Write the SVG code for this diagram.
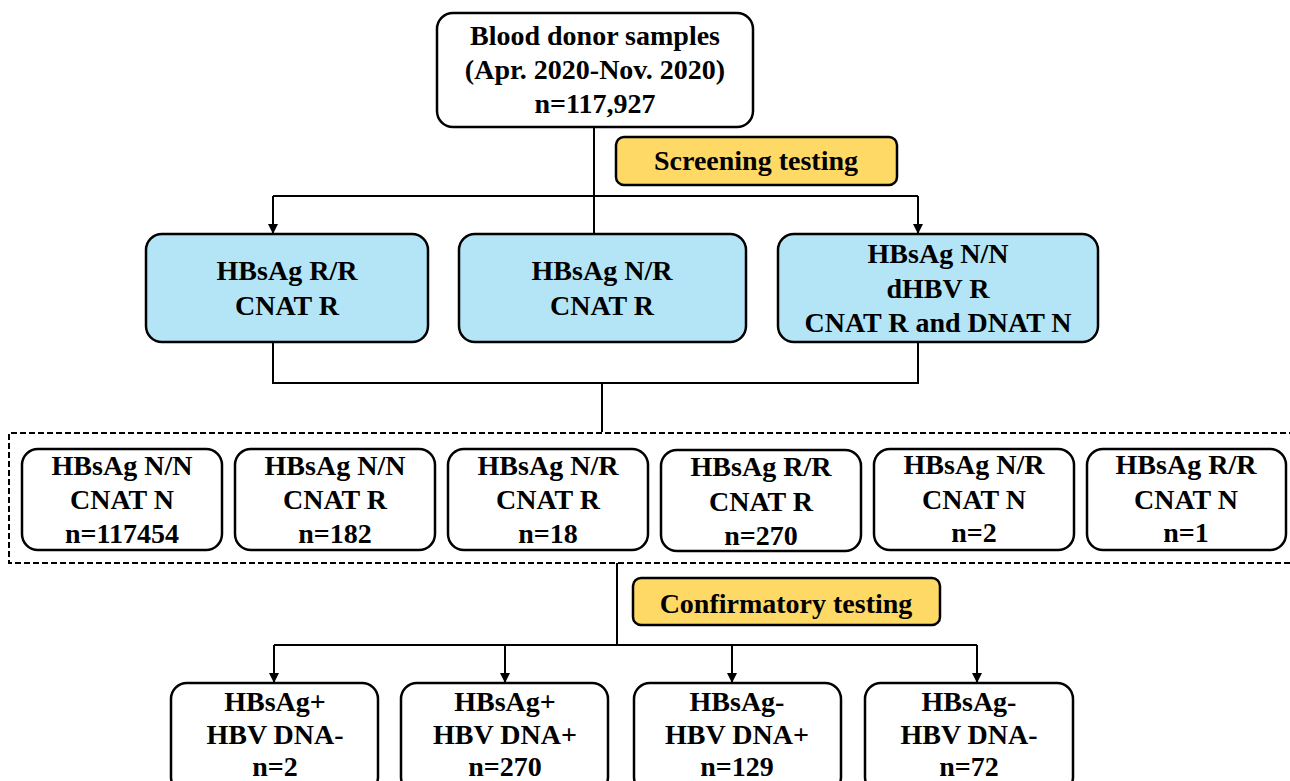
<svg xmlns="http://www.w3.org/2000/svg" width="1290" height="781" viewBox="0 0 1290 781">
  <defs>
    <marker id="arrow" viewBox="0 0 10 10" refX="10" refY="5" markerWidth="10" markerHeight="10" markerUnits="userSpaceOnUse" orient="auto">
      <path d="M0,0 L10,5 L0,10 Z" fill="#000"/>
    </marker>
  </defs>
  <style>
    .box { fill: #fff; stroke: #000; stroke-width: 2.5; }
    .blue { fill: #B3E5F6; stroke: #000; stroke-width: 2.5; }
    .label { fill: #FFD966; stroke: #000; stroke-width: 2.5; }
    .line { fill: none; stroke: #000; stroke-width: 2; }
    .arr { fill: none; stroke: #000; stroke-width: 2; marker-end: url(#arrow); }
    .dash { fill: none; stroke: #000; stroke-width: 2; stroke-dasharray: 6 3; }
    text { font-family: "Liberation Serif", "Times New Roman", serif; font-weight: bold; font-size: 28px; fill: #000; text-anchor: middle; }
  </style>

  <rect width="1290" height="781" fill="#fff"/>

  <!-- connectors -->
  <g id="connectors">
    <path class="line" d="M594,127 V237"/>
    <path class="line" d="M273,196 H918"/>
    <path class="arr" d="M273,196 V234"/>
    <path class="arr" d="M918,196 V234"/>
    <path class="line" d="M273,342 V383 H918 V342"/>
    <path class="line" d="M602,383 V432"/>
    <path class="line" d="M617,563 V645"/>
    <path class="line" d="M274,645 H977"/>
    <path class="arr" d="M274,645 V683"/>
    <path class="arr" d="M505,645 V683"/>
    <path class="arr" d="M732,645 V683"/>
    <path class="arr" d="M977,645 V683"/>
  </g>

  <!-- dashed grouping frame around the screening results -->
  <path class="dash" d="M1295,433 H9 V563 H1295"/>

  <g id="donors">
    <rect class="box" x="437" y="13" width="316" height="114" rx="16"/>
    <text x="595" y="45">Blood donor samples</text>
    <text x="595" y="79">(Apr. 2020-Nov. 2020)</text>
    <text x="595" y="113">n=117,927</text>
  </g>

  <g id="screening">
    <rect class="label" x="616" y="137" width="281" height="48" rx="8"/>
    <text x="756" y="170">Screening testing</text>
  </g>

  <g id="hbsag-rr">
    <rect class="blue" x="146" y="234" width="282" height="108" rx="16"/>
    <text x="287" y="280">HBsAg R/R</text>
    <text x="287" y="315">CNAT R</text>
  </g>
  <g id="hbsag-nr">
    <rect class="blue" x="459" y="234" width="287" height="108" rx="16"/>
    <text x="602" y="280">HBsAg N/R</text>
    <text x="602" y="315">CNAT R</text>
  </g>
  <g id="hbsag-nn">
    <rect class="blue" x="778" y="234" width="320" height="108" rx="16"/>
    <text x="938" y="263">HBsAg N/N</text>
    <text x="938" y="298">dHBV R</text>
    <text x="938" y="332">CNAT R and DNAT N</text>
  </g>

  <g id="r1">
    <rect class="box" x="22" y="449" width="200" height="101" rx="16"/>
    <text x="122" y="475">HBsAg N/N</text>
    <text x="122" y="509">CNAT N</text>
    <text x="122" y="543">n=117454</text>
  </g>
  <g id="r2">
    <rect class="box" x="235" y="449" width="200" height="101" rx="16"/>
    <text x="335" y="475">HBsAg N/N</text>
    <text x="335" y="509">CNAT R</text>
    <text x="335" y="543">n=182</text>
  </g>
  <g id="r3">
    <rect class="box" x="448" y="449" width="200" height="101" rx="16"/>
    <text x="548" y="475">HBsAg N/R</text>
    <text x="548" y="509">CNAT R</text>
    <text x="548" y="543">n=18</text>
  </g>
  <g id="r4">
    <rect class="box" x="661" y="450" width="200" height="101" rx="16"/>
    <text x="761" y="476">HBsAg R/R</text>
    <text x="761" y="511">CNAT R</text>
    <text x="761" y="545">n=270</text>
  </g>
  <g id="r5">
    <rect class="box" x="874" y="449" width="200" height="101" rx="16"/>
    <text x="974" y="474">HBsAg N/R</text>
    <text x="974" y="509">CNAT N</text>
    <text x="974" y="542">n=2</text>
  </g>
  <g id="r6">
    <rect class="box" x="1087" y="449" width="199" height="101" rx="16"/>
    <text x="1186" y="474">HBsAg R/R</text>
    <text x="1186" y="509">CNAT N</text>
    <text x="1186" y="542">n=1</text>
  </g>

  <g id="confirmatory">
    <rect class="label" x="633" y="578" width="307" height="47" rx="8"/>
    <text x="786" y="613">Confirmatory testing</text>
  </g>

  <g id="c1">
    <rect class="box" x="171" y="683" width="207" height="110" rx="16"/>
    <text x="275" y="711">HBsAg+</text>
    <text x="275" y="744">HBV DNA-</text>
    <text x="275" y="776">n=2</text>
  </g>
  <g id="c2">
    <rect class="box" x="401" y="683" width="207" height="110" rx="16"/>
    <text x="505" y="711">HBsAg+</text>
    <text x="505" y="744">HBV DNA+</text>
    <text x="505" y="776">n=270</text>
  </g>
  <g id="c3">
    <rect class="box" x="634" y="683" width="207" height="110" rx="16"/>
    <text x="737" y="711">HBsAg-</text>
    <text x="737" y="744">HBV DNA+</text>
    <text x="737" y="776">n=129</text>
  </g>
  <g id="c4">
    <rect class="box" x="865" y="683" width="208" height="110" rx="16"/>
    <text x="969" y="711">HBsAg-</text>
    <text x="969" y="744">HBV DNA-</text>
    <text x="969" y="776">n=72</text>
  </g>
</svg>
